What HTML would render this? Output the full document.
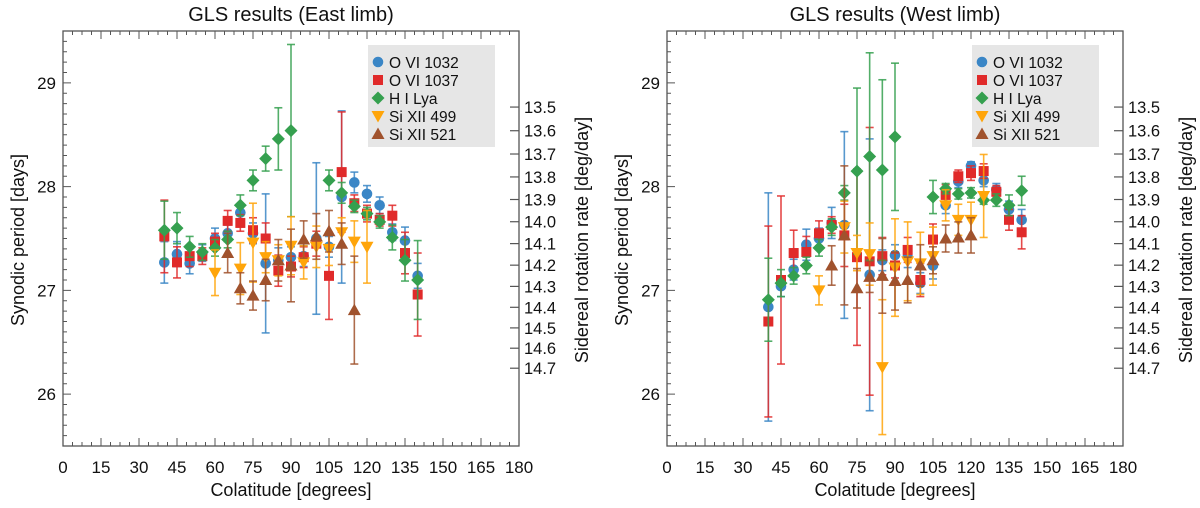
<!DOCTYPE html>
<html><head><meta charset="utf-8"><style>
body{margin:0;background:#fff;}
svg text{font-family:"Liberation Sans",sans-serif;fill:#111;}
</style></head><body>
<svg id="chart" width="1200" height="503" viewBox="0 0 1200 503" xmlns="http://www.w3.org/2000/svg"></svg>
<script>
// ---- data: colatitude (deg), synodic period (days), error (days) ----
const xTickLabels = [0,15,30,45,60,75,90,105,120,135,150,165,180];
const yTickLabels = [26,27,28,29];
const rateTickLabels = [13.5,13.6,13.7,13.8,13.9,14.0,14.1,14.2,14.3,14.4,14.5,14.6,14.7];
const seriesNames = ["O VI 1032","O VI 1037","H I Lya","Si XII 499","Si XII 521"];

const eastBlueX = [40,45,50,55,60,65,70,75,80,85,90,95,100,105,110,115,120,125,130,135,140];
const eastBlueY = [27.27,27.35,27.26,27.36,27.50,27.55,27.75,27.55,27.26,27.29,27.32,27.33,27.50,27.42,27.90,28.04,27.93,27.82,27.56,27.48,27.14];
const eastBlueE = [.2,.12,.1,.08,.1,.08,.08,.1,.67,.12,.1,.1,.73,.1,.83,.1,.08,.08,.08,.13,.12];
const eastRedX = [40,45,50,55,60,65,70,75,80,85,90,95,100,105,110,115,120,125,130,135,140];
const eastRedY = [27.52,27.27,27.33,27.33,27.47,27.67,27.65,27.58,27.50,27.19,27.23,27.32,27.45,27.14,28.14,27.84,27.74,27.68,27.72,27.36,26.96];
const eastRedE = [.35,.15,.1,.08,.08,.1,.08,.12,.15,.15,.1,.1,.12,.42,.58,.08,.08,.06,.1,.2,.4];
const eastGreenX = [40,45,50,55,60,65,70,75,80,85,90,105,110,115,120,125,130,135,140];
const eastGreenY = [27.58,27.60,27.42,27.37,27.41,27.49,27.82,28.06,28.27,28.46,28.54,28.06,27.94,27.81,27.74,27.66,27.51,27.29,27.10];
const eastGreenE = [.28,.15,.1,.08,.08,.08,.1,.1,.12,.3,.83,.1,.1,.06,.06,.06,.12,.2,.38];
const eastYellowX = [60,70,75,80,85,90,95,100,105,110,115,120];
const eastYellowY = [27.17,27.21,27.46,27.32,27.29,27.43,27.27,27.42,27.40,27.56,27.47,27.42];
const eastYellowE = [.22,.25,.38,.15,.15,.28,.16,.2,.16,.14,.2,.35];
const eastBrownX = [65,70,75,80,85,90,95,100,105,110,115];
const eastBrownY = [27.36,27.02,26.95,27.10,27.29,27.24,27.49,27.52,27.57,27.45,26.81];
const eastBrownE = [.19,.15,.14,.2,.2,.35,.18,.22,.2,.2,.52];

const westBlueX = [40,45,50,55,60,65,70,80,85,90,95,100,105,110,115,120,125,130,135,140];
const westBlueY = [26.84,27.04,27.20,27.44,27.50,27.65,27.63,27.15,27.29,27.34,27.32,27.07,27.24,27.82,28.05,28.20,28.06,27.97,27.78,27.68];
const westBlueE = [1.1,.1,.1,.15,.1,.15,.9,1.31,.1,.1,.1,.1,.13,.08,.06,.04,.06,.06,.08,.1];
const westRedX = [40,45,50,55,60,65,70,75,80,85,90,95,100,105,110,115,120,125,130,135,140];
const westRedY = [26.70,27.10,27.36,27.37,27.55,27.63,27.53,27.32,27.28,27.33,27.24,27.39,27.10,27.49,27.92,28.10,28.13,28.15,27.95,27.68,27.56];
const westRedE = [.92,.81,.22,.15,.12,.08,.3,.85,1.29,.18,.12,.12,.16,.15,.1,.06,.07,.07,.06,.1,.16];
const westGreenX = [40,45,50,55,60,65,70,75,80,85,90,105,110,115,120,125,130,135,140];
const westGreenY = [26.91,27.07,27.14,27.24,27.41,27.61,27.94,28.15,28.29,28.16,28.48,27.90,27.98,27.93,27.94,27.87,27.87,27.82,27.96];
const westGreenE = [.4,.13,.08,.08,.08,.08,.07,.8,1.0,.87,.71,.16,.05,.05,.05,.04,.06,.1,.14];
const westYellowX = [60,70,75,80,85,90,95,100,105,110,115,120,125];
const westYellowY = [27.00,27.61,27.36,27.35,26.26,27.22,27.28,27.26,27.33,27.82,27.68,27.68,27.91];
const westYellowE = [.14,.25,.17,.3,.65,.47,.38,.3,.28,.15,.15,.17,.4];
const westBrownX = [65,70,75,80,85,90,95,100,105,110,115,120];
const westBrownY = [27.24,27.53,27.02,27.13,27.14,27.09,27.10,27.24,27.29,27.50,27.51,27.53];
const westBrownE = [.19,.67,.19,.15,.36,.28,.22,.2,.13,.13,.15,.17];

const NS = "http://www.w3.org/2000/svg";
const svg = document.getElementById("chart");
const COLORS = ["#3a86c6","#e02a2a","#35a04f","#ffa50a","#a0522d"];
const SHAPES = ["circle","square","diamond","down","up"];
const TOP = 31, BOT = 446, L0 = 63, R0 = 519;

function el(tag, attrs, parent){
  const e = document.createElementNS(NS, tag);
  for (const k in attrs) e.setAttribute(k, attrs[k]);
  (parent||svg).appendChild(e);
  return e;
}
function drawPanel(ox, title, series, pname){
  const g = el("g", {});
  
  
  const xS = c => L0 + ox + (c/180)*(R0-L0);
  const yS = p => TOP + (29.5 - p)*(BOT-TOP)/4;
  // frame
  const fr = el("rect", {x:L0+ox, y:TOP, width:R0-L0, height:BOT-TOP, fill:"none", stroke:"#555", "stroke-width":1.3}, g);
  
  
  // x ticks
  for (let i=0;i<=48;i++){
    const c = i*3.75, x = xS(c), major = i%4===0;
    const len = major?8:4;
    el("line",{x1:x,x2:x,y1:BOT,y2:BOT-len,stroke:"#555","stroke-width":1},g);
    el("line",{x1:x,x2:x,y1:TOP,y2:TOP+len,stroke:"#555","stroke-width":1},g);
  }
  xTickLabels.forEach(v=>{
    const t = el("text",{x:xS(v),y:473,"text-anchor":"middle","font-size":17},g);
    t.textContent = v;
    
    
  });
  const xt = el("text",{x:(L0+R0)/2+ox,y:496,"text-anchor":"middle","font-size":18},g);
  xt.textContent = "Colatitude [degrees]";
  
  
  // y ticks
  for (let i=0;i<=40;i++){
    const p = 25.5 + i*0.1, y = yS(p);
    const major = Math.abs(p - Math.round(p))<1e-6;
    el("line",{x1:L0+ox,x2:L0+ox+(major?8:4),y1:y,y2:y,stroke:"#555","stroke-width":1},g);
  }
  yTickLabels.forEach(v=>{
    const t = el("text",{x:L0+ox-7,y:yS(v)+6,"text-anchor":"end","font-size":17},g);
    t.textContent = v;
    
    
  });
  const yt = el("text",{x:0,y:0,"text-anchor":"middle","font-size":18,transform:`translate(${24+ox},240) rotate(-90)`},g);
  yt.textContent = "Synodic period [days]";
  
  
  // right sidereal axis
  rateTickLabels.forEach(r=>{
    const p = 360/(r-0.9856), y = yS(p);
    el("line",{x1:R0+ox-9,x2:R0+ox,y1:y,y2:y,stroke:"#555","stroke-width":1.2},g);
    const t = el("text",{x:R0+ox+5,y:y+6,"font-size":16.5},g);
    t.textContent = r.toFixed(1);
    
    
  });
  const rt = el("text",{x:0,y:0,"text-anchor":"middle","font-size":18,transform:`translate(${588+ox},240) rotate(-90)`},g);
  rt.textContent = "Sidereal rotation rate [deg/day]";
  
  
  // title
  const tt = el("text",{x:(L0+R0)/2+ox,y:21,"text-anchor":"middle","font-size":20},g);
  tt.textContent = title;
  
  
  // legend
  const lg = el("g",{},g);
  
  
  el("rect",{x:368+ox,y:45,width:127,height:102,fill:"#e6e6e6"},lg);
  seriesNames.forEach((n,i)=>{
    const y = 62 + i*18;
    const m = marker(lg, SHAPES[i], COLORS[i], 378+ox, y);
    const t = el("text",{x:389+ox,y:y+6,"font-size":15.5},lg);
    t.textContent = n;
    
    
  });
  // series
  series.forEach((s,i)=>{
    const sg = el("g",{},g);
    
    
    s[0].forEach((c,j)=>{
      const x = xS(c), y = yS(s[1][j]), e = s[2][j];
      const y1 = yS(s[1][j]+e), y2 = yS(s[1][j]-e);
      el("line",{x1:x,x2:x,y1:y1,y2:y2,stroke:COLORS[i],"stroke-width":1.6,"stroke-opacity":0.85},sg);
      el("line",{x1:x-4,x2:x+4,y1:y1,y2:y1,stroke:COLORS[i],"stroke-width":1.6,"stroke-opacity":0.85},sg);
      el("line",{x1:x-4,x2:x+4,y1:y2,y2:y2,stroke:COLORS[i],"stroke-width":1.6,"stroke-opacity":0.85},sg);
      const m = marker(sg, SHAPES[i], COLORS[i], x, y);
      
      
    });
  });
}
function marker(parent, shape, color, x, y){
  if (shape==="circle") return el("circle",{cx:x,cy:y,r:5.3,fill:color},parent);
  if (shape==="square") return el("rect",{x:x-5,y:y-5,width:10,height:10,fill:color},parent);
  if (shape==="diamond") return el("polygon",{points:`${x},${y-6.5} ${x+6.5},${y} ${x},${y+6.5} ${x-6.5},${y}`,fill:color},parent);
  if (shape==="down") return el("polygon",{points:`${x-6.5},${y-5} ${x+6.5},${y-5} ${x},${y+6.5}`,fill:color},parent);
  return el("polygon",{points:`${x-6.5},${y+5} ${x+6.5},${y+5} ${x},${y-6.5}`,fill:color},parent);
}
drawPanel(0, "GLS results (East limb)", [
  [eastBlueX,eastBlueY,eastBlueE],[eastRedX,eastRedY,eastRedE],[eastGreenX,eastGreenY,eastGreenE],
  [eastYellowX,eastYellowY,eastYellowE],[eastBrownX,eastBrownY,eastBrownE]], "east");
drawPanel(604, "GLS results (West limb)", [
  [westBlueX,westBlueY,westBlueE],[westRedX,westRedY,westRedE],[westGreenX,westGreenY,westGreenE],
  [westYellowX,westYellowY,westYellowE],[westBrownX,westBrownY,westBrownE]], "west");
</script>
</body></html>
